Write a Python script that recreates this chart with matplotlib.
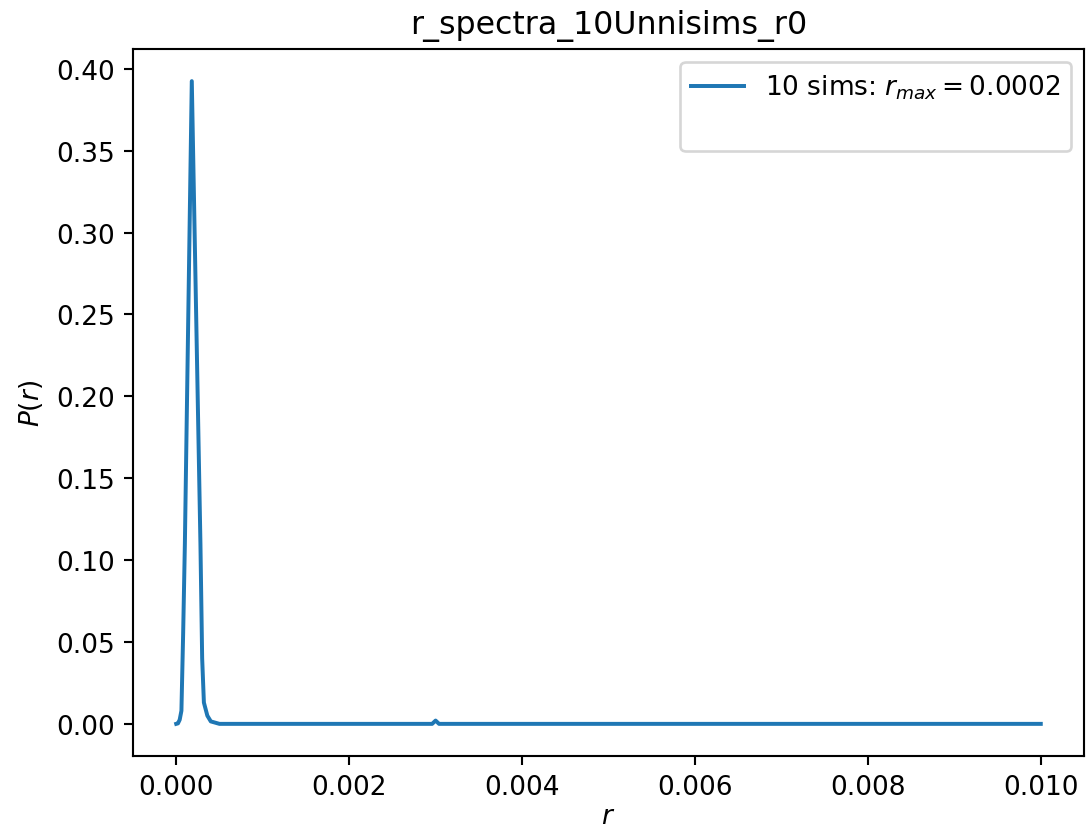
import matplotlib
matplotlib.use('Agg')
import matplotlib.pyplot as plt

# radius grid and spectrum values
r_vals = [0.0, 0.00002, 0.00004, 0.00006, 0.00008, 0.0001, 0.00018,
          0.00028, 0.0003, 0.00032, 0.00036, 0.0004, 0.0005,
          0.00296, 0.003, 0.00304, 0.01]
p_vals = [0.0, 0.0003, 0.0025, 0.008, 0.055, 0.11, 0.3925,
          0.11, 0.04, 0.013, 0.005, 0.0015, 0.0,
          0.0, 0.002, 0.0, 0.0]

nSims = 10
rMax = 0.0002
title = 'r_spectra_10Unnisims_r0'

dpi = 190
fig = plt.figure(figsize=(1089 / dpi, 835 / dpi), dpi=dpi)
ax = fig.add_subplot(111)
fig.subplots_adjust(left=133 / 1089, right=1084 / 1089, top=1 - 50 / 835, bottom=1 - 757 / 835)

ax.plot(r_vals, p_vals, label=f'{nSims} sims: $r_{{max}} = {rMax}$')
# blank second row in the legend
ax.plot([], [], ' ', label=' ')

ax.set_xlabel('$r$', labelpad=1)
ax.set_ylabel('$P(r)$')
ax.set_title(title)
ax.set_xticks([0.0, 0.002, 0.004, 0.006, 0.008, 0.010])
ax.legend(loc='upper right')

fig.savefig('out.png', dpi=dpi)
